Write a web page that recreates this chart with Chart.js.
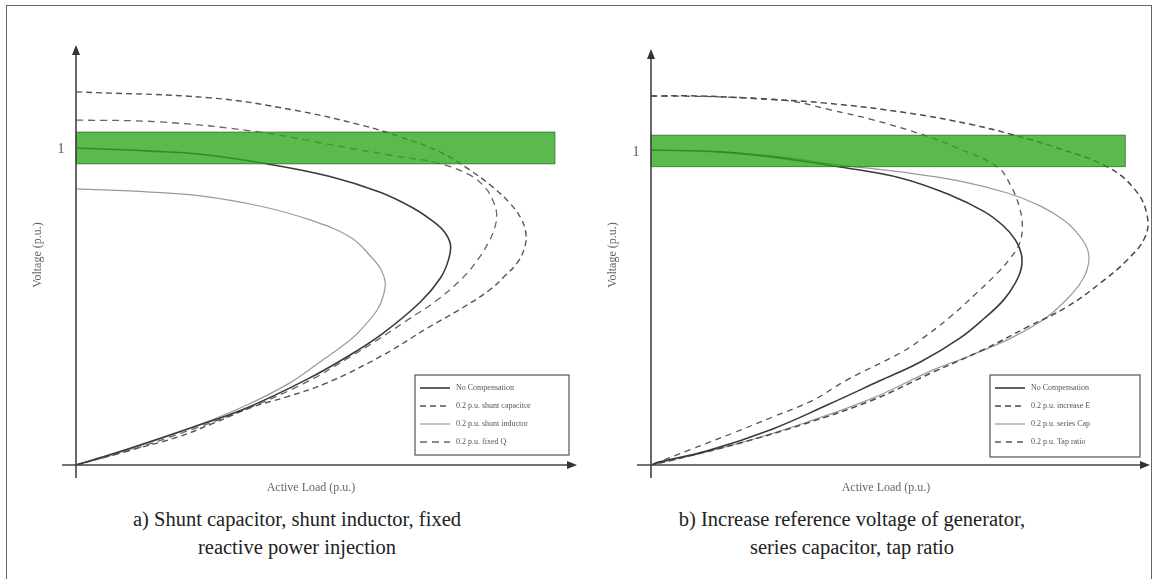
<!DOCTYPE html>
<html>
<head>
<meta charset="utf-8">
<script src="https://cdn.jsdelivr.net/npm/chart.js@4"></script>
<style>
  body { margin: 0; background: #fff; width: 1158px; height: 579px; overflow: hidden; position: relative; }
  .frame { position: absolute; left: 6px; top: 5px; width: 1144px; height: 600px; border: 1px solid #666; }
  canvas { position: absolute; top: 0; }
  #left { left: 0; }
  #right { left: 580px; }
  .caption { position: absolute; top: 505px; width: 600px; text-align: center;
    font-family: "Liberation Serif", "Times New Roman", serif; font-size: 20.5px; line-height: 28px; color: #222; }
</style>
</head>
<body>
<div class="frame"></div>
<canvas id="left" width="580" height="500"></canvas>
<canvas id="right" width="575" height="500"></canvas>
<div class="caption" style="left:-3px">a) Shunt capacitor, shunt inductor, fixed<br>reactive power injection</div>
<div class="caption" style="left:552px">b) Increase reference voltage of generator,<br>series capacitor, tap ratio</div>
<script>
// left panel
const leftLabels = ["No Compensation", "0.2 p.u. shunt capacitor", "0.2 p.u. shunt inductor", "0.2 p.u. fixed Q"];
const noCompLoad = [0, 0.74, 1.24, 1.90, 2.53, 3.03, 3.36, 3.55, 3.67, 3.73, 3.71, 3.63, 3.43, 3.06, 2.73, 2.30, 1.70, 1.17, 0.51, 0];
const noCompVolt = [1.00, 0.99, 0.98, 0.95, 0.91, 0.86, 0.81, 0.77, 0.735, 0.694, 0.647, 0.59, 0.514, 0.416, 0.347, 0.27, 0.18, 0.12, 0.05, 0];
const shuntCapLoad = [0, 1.34, 2.16, 2.83, 3.23, 3.63, 3.92, 4.15, 4.32, 4.43, 4.48, 4.47, 4.40, 4.27, 4.12, 3.83, 3.50, 3.06, 2.50, 2.10, 1.76, 1.37, 1.01, 0.44, 0];
const shuntCapVolt = [1.177, 1.158, 1.12, 1.073, 1.035, 0.987, 0.931, 0.877, 0.826, 0.779, 0.732, 0.688, 0.64, 0.596, 0.552, 0.492, 0.432, 0.347, 0.259, 0.215, 0.183, 0.132, 0.088, 0.038, 0];
const shuntIndLoad = [0, 0.74, 1.24, 1.83, 2.33, 2.73, 2.95, 3.04, 3.08, 3.06, 3.00, 2.86, 2.73, 2.43, 2.13, 1.68, 1.17, 0.51, 0];
const shuntIndVolt = [0.871, 0.861, 0.849, 0.817, 0.773, 0.719, 0.653, 0.615, 0.574, 0.533, 0.489, 0.435, 0.394, 0.325, 0.259, 0.186, 0.12, 0.047, 0];
const fixedQLoad = [0, 0.84, 1.83, 2.66, 3.23, 3.60, 3.92, 4.07, 4.15, 4.19, 4.17, 4.11, 4.00, 3.86, 3.60, 3.30, 3.00, 2.73, 2.30, 1.70, 1.17, 0.51, 0];
const fixedQVolt = [1.088, 1.082, 1.05, 1.003, 0.972, 0.953, 0.915, 0.877, 0.836, 0.792, 0.748, 0.703, 0.647, 0.593, 0.521, 0.457, 0.394, 0.341, 0.262, 0.177, 0.114, 0.044, 0];

// right panel
const rightLabels = ["No Compensation", "0.2 p.u. increase E", "0.2 p.u. series Cap", "0.2 p.u. Tap ratio"];
const baseLoad = [0, 0.70, 1.30, 1.91, 2.52, 3.02, 3.37, 3.56, 3.68, 3.74, 3.74, 3.68, 3.56, 3.37, 3.12, 2.72, 2.31, 1.78, 1.23, 0.57, 0.09, 0];
const baseVolt = [1.003, 0.997, 0.978, 0.949, 0.914, 0.86, 0.806, 0.761, 0.717, 0.672, 0.627, 0.58, 0.525, 0.468, 0.404, 0.328, 0.268, 0.191, 0.115, 0.045, 0.01, 0];
const incELoad = [0, 0.49, 1.09, 1.74, 2.59, 3.25, 3.66, 4.10, 4.61, 4.89, 5.01, 4.99, 4.81, 4.54, 4.20, 3.80, 3.35, 2.85, 2.24, 1.58, 0.90, 0.22, 0];
const incEVolt = [1.175, 1.175, 1.166, 1.153, 1.121, 1.083, 1.051, 1.01, 0.949, 0.876, 0.796, 0.726, 0.653, 0.58, 0.503, 0.439, 0.366, 0.296, 0.207, 0.134, 0.07, 0.016, 0];
const seriesCapLoad = [0, 0.70, 1.30, 1.91, 2.52, 3.12, 3.60, 3.93, 4.18, 4.33, 4.41, 4.42, 4.37, 4.26, 4.00, 3.66, 3.19, 2.85, 2.24, 1.58, 0.90, 0.22, 0];
const seriesCapVolt = [1.003, 0.997, 0.981, 0.955, 0.933, 0.904, 0.866, 0.825, 0.777, 0.729, 0.685, 0.643, 0.596, 0.548, 0.471, 0.408, 0.344, 0.303, 0.213, 0.137, 0.07, 0.016, 0];
const tapLoad = [0, 0.70, 1.40, 1.81, 2.24, 2.75, 3.09, 3.50, 3.64, 3.72, 3.75, 3.72, 3.63, 3.51, 3.29, 3.02, 2.72, 2.52, 1.98, 1.64, 1.23, 0.83, 0.39, 0];
const tapVolt = [1.175, 1.172, 1.159, 1.131, 1.099, 1.051, 1.01, 0.949, 0.885, 0.822, 0.761, 0.704, 0.659, 0.615, 0.548, 0.471, 0.398, 0.357, 0.271, 0.207, 0.153, 0.102, 0.048, 0];

const voltageTicks = [1];
const acceptableBand = [0.95, 1.05];

function toPoints(load, volt) {
  return load.map((p, i) => ({ x: p, y: volt[i] }));
}

function curve(label, load, volt, color, width, dash) {
  return {
    label: label,
    data: toPoints(load, volt),
    borderColor: color,
    borderWidth: width,
    borderDash: dash,
    showLine: true,
    pointRadius: 0,
    tension: 0.4,
    fill: false,
  };
}

const serif = '"Liberation Serif", "Times New Roman", serif';

const pvDecor = {
  id: "pvDecor",
  afterDatasetsDraw(chart, args, opts) {
    const { ctx, scales } = chart;
    const top = scales.y.getPixelForValue(acceptableBand[1]);
    const bottom = scales.y.getPixelForValue(acceptableBand[0]);
    const left = scales.x.getPixelForValue(0);
    const right = scales.x.getPixelForValue(opts.bandEnd);
    ctx.save();
    ctx.fillStyle = "rgba(44, 166, 28, 0.78)";
    ctx.fillRect(left, top, right - left, bottom - top);
    ctx.strokeStyle = "rgba(40, 110, 30, 0.8)";
    ctx.lineWidth = 1;
    ctx.strokeRect(left, top, right - left, bottom - top);
    ctx.restore();
  },
  afterDraw(chart, args, opts) {
    const { ctx, chartArea, scales } = chart;
    const x0 = scales.x.getPixelForValue(0);
    const y0 = scales.y.getPixelForValue(0);
    ctx.save();
    ctx.strokeStyle = "#444";
    ctx.fillStyle = "#333";
    ctx.lineWidth = 1.6;

    // axes with arrows
    const yTip = chartArea.top + 8;
    const xTip = chartArea.right - 1;
    ctx.beginPath();
    ctx.moveTo(x0, y0 + 13);
    ctx.lineTo(x0, yTip + 6);
    ctx.moveTo(x0 - 14, y0);
    ctx.lineTo(xTip - 6, y0);
    ctx.stroke();
    ctx.beginPath();
    ctx.moveTo(x0, yTip);
    ctx.lineTo(x0 - 4, yTip + 10);
    ctx.lineTo(x0 + 4, yTip + 10);
    ctx.closePath();
    ctx.fill();
    ctx.beginPath();
    ctx.moveTo(xTip, y0);
    ctx.lineTo(xTip - 10, y0 - 4);
    ctx.lineTo(xTip - 10, y0 + 4);
    ctx.closePath();
    ctx.fill();

    // tick labels
    ctx.fillStyle = "#555";
    ctx.font = "14px " + serif;
    ctx.textAlign = "center";
    ctx.textBaseline = "middle";
    voltageTicks.forEach((v) => {
      ctx.fillText(String(v), x0 - 15, scales.y.getPixelForValue(v) + 1);
    });

    // axis titles
    ctx.fillStyle = "#666";
    ctx.font = "12px " + serif;
    ctx.fillText("Active Load (p.u.)", x0 + 235, y0 + 23);
    ctx.save();
    ctx.translate(x0 - 38, 255);
    ctx.rotate(-Math.PI / 2);
    ctx.fillText("Voltage (p.u.)", 0, 0);
    ctx.restore();

    // legend box
    const box = opts.legendBox;
    ctx.strokeStyle = "#555";
    ctx.lineWidth = 1.2;
    ctx.strokeRect(box[0], box[1], box[2], box[3]);
    ctx.font = "8px " + serif;
    ctx.textAlign = "left";
    chart.data.datasets.forEach((ds, i) => {
      const ry = box[1] + 13 + i * 18;
      ctx.strokeStyle = ds.borderColor;
      ctx.lineWidth = ds.borderWidth;
      ctx.setLineDash(ds.borderDash || []);
      ctx.beginPath();
      ctx.moveTo(box[0] + 5, ry);
      ctx.lineTo(box[0] + 35, ry);
      ctx.stroke();
      ctx.setLineDash([]);
      ctx.fillStyle = "#555";
      ctx.fillText(ds.label, box[0] + 41, ry);
    });
    ctx.restore();
  },
};

function makeChart(id, datasets, xMax, yMax, padding, bandEnd, legendBox) {
  const el = document.getElementById(id);
  return new Chart(el.getContext("2d"), {
    type: "scatter",
    data: { datasets: datasets },
    options: {
      responsive: false,
      animation: false,
      devicePixelRatio: 1,
      layout: { padding: padding },
      scales: {
        x: { type: "linear", min: 0, max: xMax, display: false },
        y: { type: "linear", min: 0, max: yMax, display: false },
      },
      plugins: {
        legend: { display: false },
        tooltip: { enabled: false },
        pvDecor: { bandEnd: bandEnd, legendBox: legendBox },
      },
    },
    plugins: [pvDecor],
  });
}

makeChart(
  "left",
  [
    curve(leftLabels[0], noCompLoad, noCompVolt, "#3a3a3a", 1.6, []),
    curve(leftLabels[1], shuntCapLoad, shuntCapVolt, "#555", 1.4, [6, 4]),
    curve(leftLabels[2], shuntIndLoad, shuntIndVolt, "#9a9a9a", 1.2, []),
    curve(leftLabels[3], fixedQLoad, fixedQVolt, "#666", 1.3, [7, 5]),
  ],
  5.0, 1.35, { left: 76, right: 2, top: 37, bottom: 35 }, 4.77, [415, 375, 154, 80]
);

makeChart(
  "right",
  [
    curve(rightLabels[0], baseLoad, baseVolt, "#3a3a3a", 1.6, []),
    curve(rightLabels[1], incELoad, incEVolt, "#4a4a4a", 1.5, [6, 4]),
    curve(rightLabels[2], seriesCapLoad, seriesCapVolt, "#a09898", 1.2, []),
    curve(rightLabels[3], tapLoad, tapVolt, "#555", 1.3, [6, 5]),
  ],
  5.05, 1.35, { left: 71, right: 4, top: 41, bottom: 35 }, 4.79, [410, 375, 150, 82]
);
</script>
</body>
</html>
